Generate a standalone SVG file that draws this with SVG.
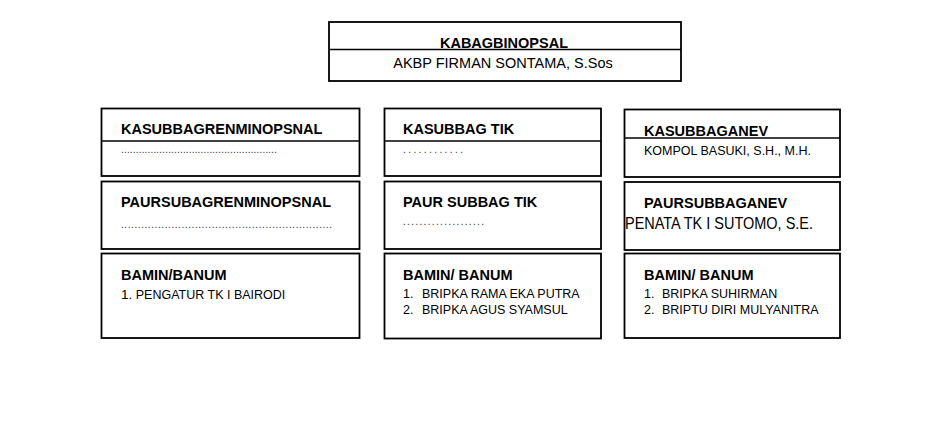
<svg xmlns="http://www.w3.org/2000/svg" width="932" height="421" viewBox="0 0 932 421">
<style>
.box{fill:#fff;stroke:#000;stroke-width:1.8}
.div{stroke:#000;stroke-width:1.5}
text{font-family:"Liberation Sans",Arial,sans-serif;fill:#000}
.h{font-size:14.5px;font-weight:bold}
.n{font-size:12.5px}
.m{font-size:14.5px}
.d{font-size:10px;fill:#333}
</style>
<rect width="932" height="421" fill="#fff"/>
<g id="connectors"></g>
<g id="kabag">
<rect class="box" x="329" y="22" width="352" height="59"/>
<line class="div" x1="329" y1="49.5" x2="681" y2="49.5"/>
<text class="h" x="504" y="48" text-anchor="middle">KABAGBINOPSAL</text>
<text class="m" x="503" y="68" text-anchor="middle">AKBP FIRMAN SONTAMA, S.Sos</text>
</g>
<g id="kasubbagrenminopsnal">
<rect class="box" x="101.5" y="108.5" width="258" height="67.5"/>
<line class="div" x1="101.5" y1="141" x2="359.5" y2="141"/>
<text class="h" x="121" y="134">KASUBBAGRENMINOPSNAL</text>
<text class="d" x="121" y="153" textLength="156" lengthAdjust="spacing">.....................................................</text>
</g>
<g id="paursubagrenminopsnal">
<rect class="box" x="101.5" y="181.5" width="258" height="67.5"/>
<text class="h" x="121" y="207">PAURSUBAGRENMINOPSNAL</text>
<text class="d" x="121" y="228" textLength="211" lengthAdjust="spacing">...............................................................</text>
</g>
<g id="bamin1">
<rect class="box" x="101.5" y="253.5" width="258" height="84.5"/>
<text class="h" x="121" y="280">BAMIN/BANUM</text>
<text class="n" x="121" y="299"><tspan font-size="13.5">1.</tspan> PENGATUR TK I BAIRODI</text>
</g>
<g id="kasubbagtik">
<rect class="box" x="384.5" y="108.5" width="216.5" height="67.5"/>
<line class="div" x1="384.5" y1="141" x2="601" y2="141"/>
<text class="h" x="403" y="134">KASUBBAG TIK</text>
<text class="d" x="403" y="153" textLength="60" lengthAdjust="spacing">............</text>
</g>
<g id="paursubbagtik">
<rect class="box" x="384.5" y="181.5" width="216.5" height="67.5"/>
<text class="h" x="403" y="207">PAUR SUBBAG TIK</text>
<text class="d" x="403" y="225" textLength="81" lengthAdjust="spacing">....................</text>
</g>
<g id="bamin2">
<rect class="box" x="384.5" y="253.5" width="216.5" height="85"/>
<text class="h" x="403" y="280">BAMIN/ BANUM</text>
<text class="n" x="403" y="298">1.</text><text class="n" x="422" y="298">BRIPKA RAMA EKA PUTRA</text>
<text class="n" x="403" y="314">2.</text><text class="n" x="422" y="314">BRIPKA AGUS SYAMSUL</text>
</g>
<g id="kasubbaganev">
<rect class="box" x="624.5" y="109.5" width="215.5" height="67.5"/>
<line class="div" x1="624.5" y1="138" x2="840" y2="138"/>
<text class="h" x="644" y="136">KASUBBAGANEV</text>
<text class="n" x="644" y="155">KOMPOL BASUKI, S.H., M.H.</text>
</g>
<g id="paursubbaganev">
<rect class="box" x="624.5" y="182" width="215.5" height="68"/>
<text class="h" x="644" y="208">PAURSUBBAGANEV</text>
<text x="625" y="229" font-size="17" textLength="188" lengthAdjust="spacingAndGlyphs">PENATA TK I SUTOMO, S.E.</text>
</g>
<g id="bamin3">
<rect class="box" x="624.5" y="253.5" width="215.5" height="84.5"/>
<text class="h" x="644" y="280">BAMIN/ BANUM</text>
<text class="n" x="644" y="298">1.</text><text class="n" x="662" y="298">BRIPKA SUHIRMAN</text>
<text class="n" x="644" y="314">2.</text><text class="n" x="662" y="314">BRIPTU DIRI MULYANITRA</text>
</g>
</svg>
